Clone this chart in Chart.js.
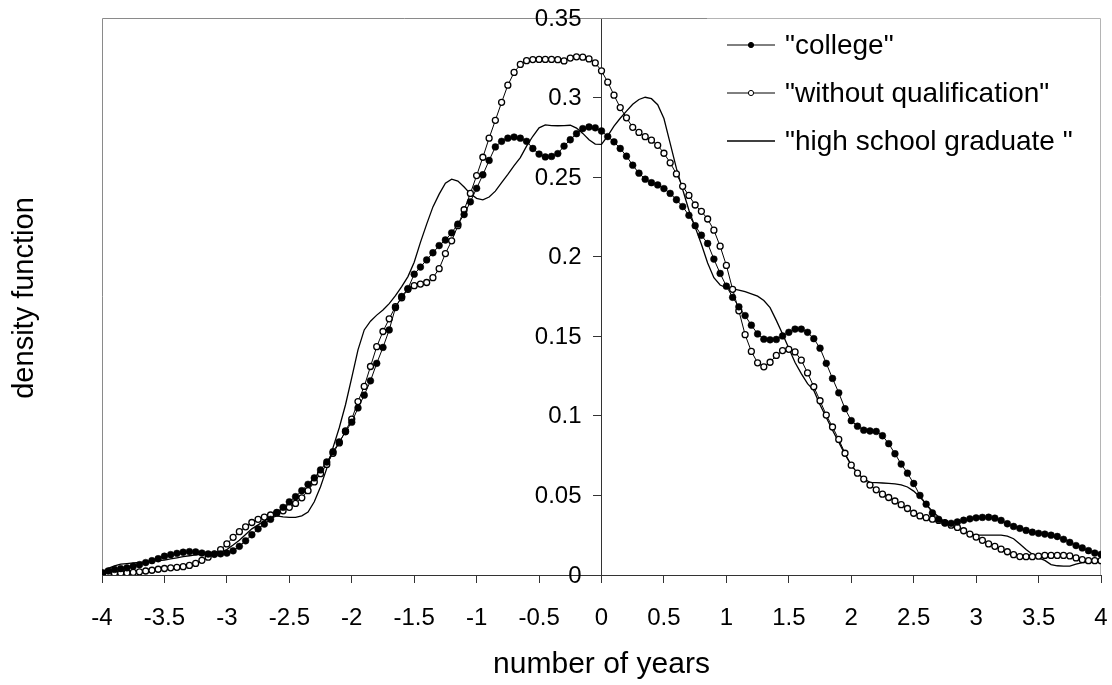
<!DOCTYPE html>
<html>
<head>
<meta charset="utf-8">
<title>density function</title>
<script src="https://cdn.jsdelivr.net/npm/chart.js@4.4.0/dist/chart.umd.min.js"></script>
<style>
  html, body { margin: 0; padding: 0; background: #fff; }
  #wrap { width: 1112px; height: 685px; }
</style>
</head>
<body>
<div id="wrap"><canvas id="densityChart" width="1112" height="685"></canvas></div>
<script>
// x positions (number of years)
const years = [
  -4, -3.95, -3.9, -3.85, -3.8, -3.75, -3.7, -3.65, -3.6, -3.55,
  -3.5, -3.45, -3.4, -3.35, -3.3, -3.25, -3.2, -3.15, -3.1, -3.05,
  -3, -2.95, -2.9, -2.85, -2.8, -2.75, -2.7, -2.65, -2.6, -2.55,
  -2.5, -2.45, -2.4, -2.35, -2.3, -2.25, -2.2, -2.15, -2.1, -2.05,
  -2, -1.95, -1.9, -1.85, -1.8, -1.75, -1.7, -1.65, -1.6, -1.55,
  -1.5, -1.45, -1.4, -1.35, -1.3, -1.25, -1.2, -1.15, -1.1, -1.05,
  -1, -0.95, -0.9, -0.85, -0.8, -0.75, -0.7, -0.65, -0.6, -0.55,
  -0.5, -0.45, -0.4, -0.35, -0.3, -0.25, -0.2, -0.15, -0.1, -0.05,
  0, 0.05, 0.1, 0.15, 0.2, 0.25, 0.3, 0.35, 0.4, 0.45,
  0.5, 0.55, 0.6, 0.65, 0.7, 0.75, 0.8, 0.85, 0.9, 0.95,
  1, 1.05, 1.1, 1.15, 1.2, 1.25, 1.3, 1.35, 1.4, 1.45,
  1.5, 1.55, 1.6, 1.65, 1.7, 1.75, 1.8, 1.85, 1.9, 1.95,
  2, 2.05, 2.1, 2.15, 2.2, 2.25, 2.3, 2.35, 2.4, 2.45,
  2.5, 2.55, 2.6, 2.65, 2.7, 2.75, 2.8, 2.85, 2.9, 2.95,
  3, 3.05, 3.1, 3.15, 3.2, 3.25, 3.3, 3.35, 3.4, 3.45,
  3.5, 3.55, 3.6, 3.65, 3.7, 3.75, 3.8, 3.85, 3.9, 3.95,
  4
];

const college = [
  0.0015, 0.0025, 0.0035, 0.004, 0.0045, 0.0055, 0.0065, 0.0078, 0.009, 0.0102,
  0.0118, 0.0128, 0.0136, 0.0143, 0.0147, 0.0145, 0.0138, 0.0132, 0.013, 0.0133,
  0.0138, 0.0152, 0.018, 0.0215, 0.0253, 0.029, 0.032, 0.035, 0.0393, 0.0425,
  0.046, 0.0492, 0.053, 0.057, 0.061, 0.066, 0.071, 0.0775, 0.0836, 0.09,
  0.096, 0.105, 0.113, 0.122, 0.133, 0.143, 0.154, 0.168, 0.175, 0.18,
  0.189, 0.1935, 0.198, 0.2025, 0.207, 0.2105, 0.215, 0.2205, 0.2265, 0.2345,
  0.243, 0.2515, 0.2605, 0.269, 0.2725, 0.2745, 0.2752, 0.2745, 0.2725, 0.268,
  0.2645, 0.2627, 0.263, 0.2648, 0.2695, 0.2735, 0.2773, 0.2805, 0.2815, 0.281,
  0.279, 0.2755, 0.2722, 0.268, 0.2632, 0.2575, 0.2525, 0.2487, 0.2465, 0.2451,
  0.2428, 0.2398, 0.2358, 0.2315, 0.226, 0.2195, 0.2135, 0.2083, 0.1985, 0.1895,
  0.1815, 0.1745, 0.1685, 0.163, 0.157, 0.1515, 0.1482, 0.1478, 0.148, 0.1502,
  0.1525, 0.1545, 0.1545, 0.1525, 0.1485, 0.1425, 0.133, 0.1235, 0.1145, 0.1045,
  0.097, 0.0935, 0.091, 0.0905, 0.0902, 0.0875, 0.0825, 0.0762, 0.0697, 0.064,
  0.0575, 0.05, 0.0445, 0.039, 0.035, 0.0326, 0.0325, 0.0333, 0.0344, 0.0353,
  0.0359, 0.0362, 0.0363, 0.0357, 0.0343, 0.0322, 0.0305, 0.0293, 0.028, 0.0269,
  0.0262, 0.0257, 0.025, 0.0242, 0.0224, 0.0205, 0.0185, 0.017, 0.0153, 0.0138,
  0.013
];

const withoutQualification = [
  0.001, 0.001, 0.0012, 0.0013, 0.0014, 0.0016, 0.002, 0.0025, 0.003, 0.0036,
  0.0041, 0.0045, 0.0048, 0.0052, 0.006, 0.0073, 0.0092, 0.0112, 0.0133, 0.016,
  0.0195, 0.0237, 0.0272, 0.0303, 0.033, 0.035, 0.0364, 0.0377, 0.039, 0.0403,
  0.0425, 0.045, 0.0485, 0.053, 0.0585, 0.0637, 0.0695, 0.0765, 0.083, 0.0905,
  0.098, 0.109, 0.1185, 0.131, 0.1435, 0.153, 0.161, 0.1687, 0.1742, 0.1795,
  0.1818, 0.1828, 0.1838, 0.1868, 0.1925, 0.202, 0.21, 0.2195, 0.2295, 0.2398,
  0.251, 0.2625, 0.2745, 0.2857, 0.297, 0.3078, 0.3158, 0.3208, 0.3232, 0.3239,
  0.324, 0.324, 0.324, 0.3238, 0.323, 0.3248, 0.3256, 0.3254, 0.3243, 0.3218,
  0.3168, 0.3097, 0.3015, 0.2937, 0.2873, 0.2813, 0.2781, 0.2754, 0.2732, 0.27,
  0.265, 0.259, 0.252, 0.2442, 0.2385, 0.2325, 0.2285, 0.2237, 0.2167, 0.2066,
  0.1945, 0.1795, 0.166, 0.151, 0.1405, 0.1333, 0.1308, 0.1337, 0.138, 0.141,
  0.1418, 0.1402, 0.135, 0.127, 0.1183, 0.1095, 0.1005, 0.093, 0.0852, 0.0765,
  0.069, 0.064, 0.0603, 0.0565, 0.0535, 0.0508, 0.0487, 0.0465, 0.0442, 0.0418,
  0.0388, 0.0371, 0.036, 0.0351, 0.0343, 0.0329, 0.0313, 0.0299, 0.0278, 0.0257,
  0.0238, 0.0218, 0.0195, 0.018, 0.0162, 0.0146, 0.0128, 0.0116, 0.0115, 0.0115,
  0.0118, 0.0123, 0.0123, 0.0123, 0.0123, 0.012, 0.0107, 0.0096, 0.009, 0.009,
  0.009
];

const highSchool = [
  0.002, 0.0042, 0.0057, 0.0068, 0.0072, 0.0076, 0.0079, 0.0083, 0.0087, 0.009,
  0.0094, 0.0101, 0.0108, 0.0115, 0.0121, 0.0126, 0.0129, 0.013, 0.0132, 0.0143,
  0.016, 0.0188, 0.0218, 0.0255, 0.029, 0.0315, 0.034, 0.0358, 0.0372, 0.0365,
  0.0362, 0.0362, 0.0372, 0.0395, 0.046, 0.0555, 0.067, 0.08, 0.0925, 0.107,
  0.124, 0.1415, 0.154, 0.1595, 0.1633, 0.1665, 0.1705, 0.1755, 0.1812, 0.1875,
  0.1965, 0.209, 0.2205, 0.2313, 0.2393, 0.2462, 0.2487, 0.2475, 0.2438, 0.2395,
  0.2367, 0.2357, 0.2375, 0.2412, 0.2465, 0.2517, 0.2572, 0.2623, 0.2695, 0.2757,
  0.281, 0.2828, 0.2824, 0.2823, 0.2824, 0.2826, 0.2808, 0.2775, 0.2735, 0.2708,
  0.2706, 0.276, 0.282, 0.287, 0.2915, 0.2958, 0.2988, 0.3002, 0.2993, 0.2955,
  0.2868, 0.2712, 0.2555, 0.2422, 0.2292, 0.2186, 0.2078, 0.196, 0.1868, 0.1822,
  0.1805, 0.1798, 0.179, 0.178, 0.1767, 0.1752, 0.1725, 0.168, 0.16, 0.1515,
  0.1425, 0.1335, 0.1265, 0.1202, 0.116, 0.107, 0.099, 0.091, 0.0835, 0.0758,
  0.069, 0.064, 0.0605, 0.0582, 0.058, 0.0578, 0.0576, 0.0572, 0.0566, 0.0553,
  0.0527, 0.049, 0.0445, 0.04, 0.0365, 0.0332, 0.031, 0.0292, 0.0275, 0.026,
  0.0251, 0.0251, 0.0251, 0.0251, 0.0251, 0.0244, 0.0228, 0.0195, 0.016, 0.013,
  0.0108, 0.0092, 0.0065, 0.0058, 0.0056, 0.0056, 0.0068, 0.0078, 0.008, 0.008,
  0.008
];

const seriesLabels = ['"college"', '"without qualification"', '"high school graduate "'];
const xTickValues = [-4, -3.5, -3, -2.5, -2, -1.5, -1, -0.5, 0, 0.5, 1, 1.5, 2, 2.5, 3, 3.5, 4];
const yTickValues = [0, 0.05, 0.1, 0.15, 0.2, 0.25, 0.3, 0.35];

const FONT = '"Liberation Sans", Arial, Helvetica, sans-serif';

function toPoints(values) {
  return values.map((v, i) => ({ x: years[i], y: v }));
}

// Gray frame round the plot area (lighter where the legend box sits)
const framePlugin = {
  id: 'plotFrame',
  beforeDatasetsDraw(chart) {
    const { ctx, chartArea: a } = chart;
    ctx.save();
    ctx.lineWidth = 1;
    ctx.strokeStyle = '#8a8a8a';
    ctx.beginPath();
    ctx.moveTo(a.left + 0.5, a.bottom);
    ctx.lineTo(a.left + 0.5, a.top + 0.5);
    ctx.lineTo(707, a.top + 0.5);
    ctx.stroke();
    ctx.strokeStyle = '#b4b4b4';
    ctx.beginPath();
    ctx.moveTo(707, a.top + 0.5);
    ctx.lineTo(a.right - 0.5, a.top + 0.5);
    ctx.lineTo(a.right - 0.5, a.bottom);
    ctx.stroke();
    ctx.restore();
  }
};

// y tick labels: the axis sits at x = 0, so labels go just left of its tick marks
const yLabelPlugin = {
  id: 'yLabels',
  afterDraw(chart) {
    const { ctx, scales } = chart;
    const y = scales.y;
    const axisX = scales.x.getPixelForValue(0);
    const gap = y.options.grid.tickLength + 12;
    ctx.save();
    ctx.font = '24px ' + FONT;
    ctx.fillStyle = '#000';
    ctx.textAlign = 'right';
    ctx.textBaseline = 'middle';
    yTickValues.forEach(v => {
      ctx.fillText(String(v), axisX - gap, y.getPixelForValue(v) + 1);
    });
    ctx.restore();
  }
};

// Vertical axis title in the left margin
const yTitlePlugin = {
  id: 'yTitle',
  afterDraw(chart) {
    const ctx = chart.ctx;
    ctx.save();
    ctx.translate(25, 298);
    ctx.rotate(-Math.PI / 2);
    ctx.font = '29px ' + FONT;
    ctx.fillStyle = '#000';
    ctx.textAlign = 'center';
    ctx.textBaseline = 'middle';
    ctx.fillText('density function', 0, 0);
    ctx.restore();
  }
};

// Legend in the upper right corner, drawn from the dataset styles
const legendPlugin = {
  id: 'cornerLegend',
  afterDraw(chart) {
    const ctx = chart.ctx;
    ctx.save();
    ctx.font = '28px ' + FONT;
    ctx.textBaseline = 'middle';
    chart.data.datasets.forEach((ds, i) => {
      const y = 45 + i * 48;
      ctx.strokeStyle = '#000';
      ctx.lineWidth = ds.borderWidth;
      ctx.beginPath();
      ctx.moveTo(727, y);
      ctx.lineTo(775, y);
      ctx.stroke();
      if (ds.pointRadius > 0) {
        ctx.beginPath();
        ctx.arc(751, y, 2.6, 0, Math.PI * 2);
        ctx.fillStyle = ds.pointBackgroundColor;
        ctx.fill();
        ctx.lineWidth = 1;
        ctx.strokeStyle = '#000';
        ctx.stroke();
      }
      ctx.fillStyle = '#000';
      ctx.fillText(ds.label, 785, y + 1);
    });
    ctx.restore();
  }
};

const ctx = document.getElementById('densityChart').getContext('2d');
const densityChart = new Chart(ctx, {
  type: 'line',
  data: {
    datasets: [
      {
        label: seriesLabels[0],
        data: toPoints(college),
        borderColor: '#000',
        borderWidth: 1,
        pointRadius: 3.4,
        pointBackgroundColor: '#000',
        pointBorderColor: '#000',
        pointBorderWidth: 0.5,
        tension: 0
      },
      {
        label: seriesLabels[1],
        data: toPoints(withoutQualification),
        borderColor: '#000',
        borderWidth: 1,
        pointRadius: 3,
        pointBackgroundColor: '#fff',
        pointBorderColor: '#000',
        pointBorderWidth: 1.3,
        tension: 0
      },
      {
        label: seriesLabels[2],
        data: toPoints(highSchool),
        borderColor: '#000',
        borderWidth: 1.3,
        pointRadius: 0,
        pointBackgroundColor: '#000',
        tension: 0
      }
    ]
  },
  options: {
    responsive: false,
    animation: false,
    devicePixelRatio: 1,
    layout: { padding: { left: 102, right: 11, top: 18, bottom: 0 } },
    plugins: {
      legend: { display: false },
      tooltip: { enabled: false }
    },
    scales: {
      x: {
        type: 'linear',
        min: -4,
        max: 4,
        afterBuildTicks: s => { s.ticks = xTickValues.map(v => ({ value: v })); },
        afterFit: s => { s.height = 110; s.paddingLeft = 0; s.paddingRight = 0; },
        ticks: {
          autoSkip: false,
          maxRotation: 0,
          padding: 21,
          color: '#000',
          font: { family: FONT, size: 24 },
          callback: v => String(v)
        },
        grid: { drawOnChartArea: false, tickLength: 8, color: '#333', lineWidth: 1 },
        border: { color: '#333', width: 1 },
        title: {
          display: true,
          text: 'number of years',
          color: '#000',
          font: { family: FONT, size: 30 },
          padding: { top: 0, bottom: 2 }
        }
      },
      y: {
        type: 'linear',
        position: { x: 0 },
        min: 0,
        max: 0.35,
        afterBuildTicks: s => { s.ticks = yTickValues.map(v => ({ value: v })); },
        afterFit: s => { s.paddingTop = 0; s.paddingBottom = 0; },
        ticks: { display: false },
        grid: { drawOnChartArea: false, drawTicks: true, tickLength: 8, color: '#333', lineWidth: 1 },
        border: { color: '#333', width: 1 }
      }
    }
  },
  plugins: [framePlugin, yLabelPlugin, yTitlePlugin, legendPlugin]
});
</script>
</body>
</html>
